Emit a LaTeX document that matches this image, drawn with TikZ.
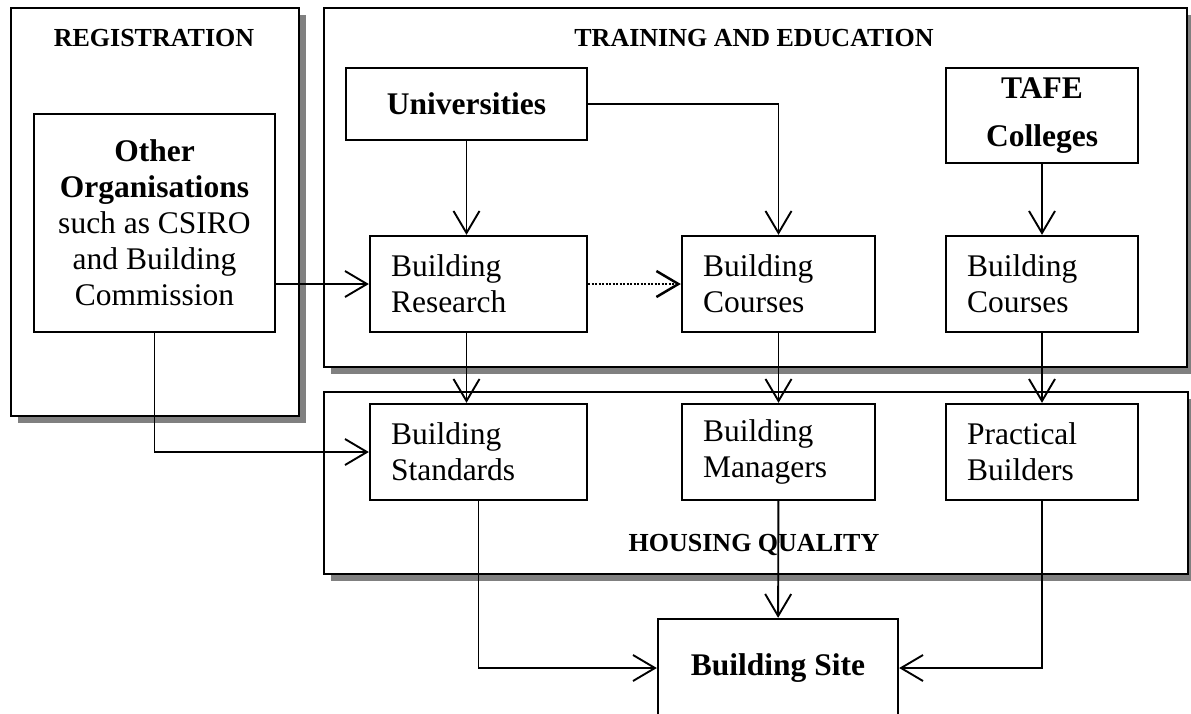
\documentclass[tikz,border=0pt]{standalone}
\usepackage{fontspec}
\setmainfont{Liberation Serif}
\usetikzlibrary{arrows.meta, shadows}
\tikzset{%
	group box/.style={
		draw,
		line width=1.5pt,
		fill=white,
		anchor=north west,
		drop shadow={shadow xshift=7pt, shadow yshift=-7pt, fill=gray, opacity=1}
	},
	unit box/.style={
		draw,
		line width=2.3pt,
		fill=white,
		align=center,
		inner sep=0pt,
		font=\fontsize{31.5}{36}\selectfont
	},
	text box/.style={
		unit box,
		align=left,
		inner xsep=21pt,
		minimum height=96pt
	},
	group title/.style={
		font=\fontsize{26}{30}\selectfont\bfseries
	},
	flow/.style={
		line width=1.9pt,
		-{Straight Barb[length=22pt, width=26pt]}
	},
}

\begin{document}
\begin{tikzpicture}[x=1pt, y=-1pt]
	\useasboundingbox (0,0) rectangle (1191,713);
	\clip (0,0) rectangle (1191,713);

	% Draw the three panels
	\node[group box, minimum width=288pt, minimum height=408pt] (registration) at (10,7) {};
	\node[group box, minimum width=863pt, minimum height=359pt] (training) at (323,7) {};
	\node[group box, minimum width=864pt, minimum height=182pt] (housing) at (323,391) {};

	% Panel titles
	\node[group title] (regtitle) at (154,38) {REGISTRATION};
	\node[group title] (traintitle) at (754,38) {TRAINING AND EDUCATION};
	\node[group title] (housetitle) at (754,545) {HOUSING QUALITY};

	% Sources at the top
	\node[unit box, minimum width=241pt, minimum height=218pt] (others) at (154.5,223)
		{\textbf{Other}\\\textbf{Organisations}\\such as CSIRO\\and Building\\Commission};
	\node[unit box, minimum width=241pt, minimum height=72pt] (univ) at (466.5,104) {\textbf{Universities}};
	\node[unit box, minimum width=192pt, minimum height=95pt] (tafe) at (1042,115.5) {\textbf{TAFE}\\[12pt]\textbf{Colleges}};

	% Middle row
	\node[text box, text width=175pt] (research) at (478.5,284) {Building\\Research};
	\node[text box, text width=151pt] (coursesA) at (778.5,284) {Building\\Courses};
	\node[text box, text width=150pt] (coursesB) at (1042,284) {Building\\Courses};

	% Lower row
	\node[text box, text width=175pt] (standards) at (478.5,452) {Building\\Standards};
	\node[text box, text width=151pt] (managers) at (778.5,452) {Building\\Managers};
	\node[text box, text width=150pt] (practical) at (1042,452) {Practical\\Builders};

	% Target
	\node[unit box, minimum width=240pt, minimum height=98pt] (site) at (778,668) {\textbf{Building Site}};

	% Draw the arrows
	\draw[flow] (univ) -- (univ.south |- research.north);
	\draw[flow] (univ.east) -| (coursesA.north);
	\draw[flow] (tafe) -- (coursesB);
	\draw[flow] (others.east |- research) -- (research);
	\draw[flow, line width=2.5pt, dash pattern=on 2pt off 1.5pt] (research) -- (coursesA);
	\draw[flow] (research.south -| univ) -- (standards.north -| univ);
	\draw[flow] (coursesA) -- (managers);
	\draw[flow] (coursesB) -- (practical);
	\draw[flow] (others.south) |- (standards);
	\draw[flow] (standards.south) |- (site);
	\draw[flow] (managers) -- (site);
	\draw[flow] (practical.south) |- (site);
\end{tikzpicture}
\end{document}
